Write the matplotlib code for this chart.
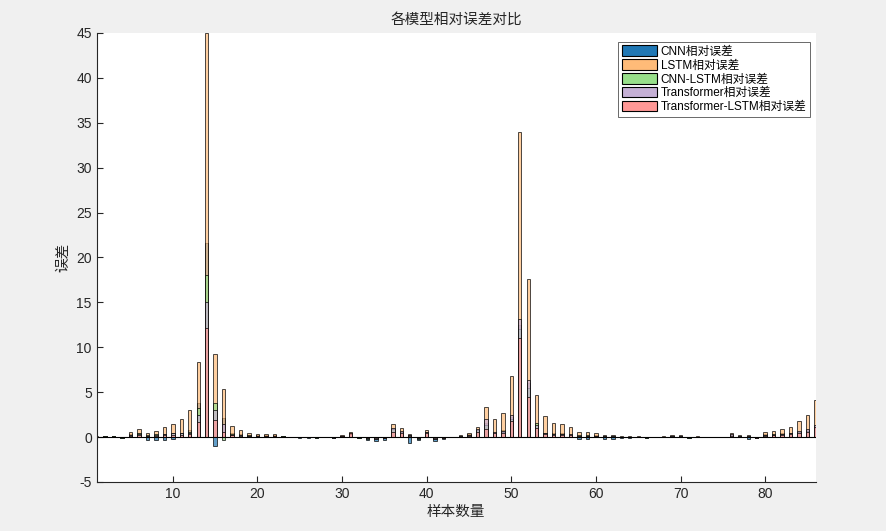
"""
    plot.py

    DESCRIPTION
    relative error of each model, overlapping bars

"""

import numpy as np
import matplotlib
matplotlib.use("Agg")
import matplotlib.pyplot as plt
from matplotlib.patches import Patch

plt.rcParams['font.family'] = ['Liberation Sans', 'Noto Sans CJK SC', 'DejaVu Sans']
plt.rcParams['axes.unicode_minus'] = False

# sample index 1..86
samples = list(range(1, 87))

lstm_err = [0.10, 0.15, 0.15, 0.05, 0.55, 0.90, 0.45, 0.70, 1.10, 1.50,
            2.00, 3.00, 8.35, 45.0, 9.20, 5.40, 1.25, 0.80, 0.45, 0.30,
            0.30, 0.30, 0.15, 0.05, 0.02, 0.02, 0.03, 0.05, 0.03, 0.25,
            0.60, 0.05, 0.05, 0.05, 0.05, 1.45, 1.05, 0.30, 0.05, 0.80,
            0.05, 0.05, 0.05, 0.25, 0.45, 1.15, 3.35, 2.00, 2.67, 6.80,
            34.0, 17.6, 4.70, 2.35, 1.55, 1.45, 1.10, 0.55, 0.55, 0.45,
            0.25, 0.25, 0.15, 0.15, 0.10, 0.03, 0.05, 0.10, 0.20, 0.20,
            0.03, 0.10, 0.03, 0.03, 0.03, 0.45, 0.20, 0.20, 0.03, 0.55,
            0.67, 0.90, 1.10, 1.80, 2.45, 4.15]

cnn_err = [0.05, 0.10, 0.10, -0.10, 0.30, 0.50, -0.30, -0.30, -0.30, -0.25,
           0.40, 0.80, 3.80, 21.6, -1.00, 2.10, 0.40, 0.30, 0.25, 0.20,
           0.20, 0.20, 0.10, 0.02, -0.05, -0.05, -0.10, 0.02, -0.15, 0.15,
           0.40, -0.10, -0.35, -0.45, -0.30, 0.80, 0.50, -0.65, -0.35, 0.50,
           -0.40, -0.20, 0.02, 0.15, 0.30, 0.70, 1.60, 0.60, 0.80, 2.20,
           12.5, 6.00, 1.20, 0.50, 0.40, 0.40, 0.30, -0.25, -0.25, 0.20,
           -0.25, -0.25, -0.15, -0.15, 0.05, -0.10, 0.02, 0.05, 0.10, 0.10,
           -0.10, 0.05, 0.02, 0.02, 0.02, 0.25, 0.10, -0.20, -0.15, 0.30,
           0.35, 0.40, 0.50, 0.60, 0.80, 1.20]

cnn_lstm_err = [0.05, 0.08, 0.08, -0.05, 0.25, 0.40, 0.20, 0.30, 0.35, 0.45,
                0.50, 0.60, 3.20, 18.0, 3.80, -0.30, 0.30, 0.25, 0.20, 0.15,
                0.15, 0.15, 0.08, 0.02, -0.03, -0.03, -0.05, 0.02, -0.08, 0.12,
                0.35, -0.05, -0.20, -0.25, -0.15, 0.90, 0.60, 0.20, -0.20, 0.55,
                -0.25, -0.10, 0.02, 0.10, 0.25, 0.80, 1.40, 0.50, 0.60, 2.00,
                12.0, 5.50, 1.55, 0.40, 0.30, 0.30, 0.25, 0.20, 0.20, 0.15,
                0.10, 0.10, 0.05, 0.05, 0.05, -0.05, 0.02, 0.05, 0.10, 0.10,
                -0.05, 0.05, 0.02, 0.02, 0.02, 0.20, 0.10, 0.10, -0.10, 0.25,
                0.30, 0.35, 0.40, 0.55, 0.70, 1.00]

transformer_err = [0.04, 0.06, 0.06, -0.03, 0.20, 0.35, 0.15, 0.25, 0.30, 0.40,
                   0.45, 0.50, 2.50, 15.0, 3.00, 1.50, 0.25, 0.20, 0.15, 0.12,
                   0.12, 0.12, 0.06, 0.01, -0.02, -0.02, -0.04, 0.01, -0.05, 0.10,
                   0.30, -0.04, -0.15, -0.20, -0.12, 1.00, 0.70, 0.25, -0.15, 0.60,
                   -0.20, -0.08, 0.01, 0.08, 0.20, 0.90, 2.00, 0.60, 0.70, 2.50,
                   13.1, 6.40, 1.30, 0.45, 0.35, 0.35, 0.30, 0.15, 0.15, 0.12,
                   0.08, 0.08, 0.04, 0.04, 0.04, -0.04, 0.01, 0.04, 0.08, 0.08,
                   -0.04, 0.04, 0.01, 0.01, 0.01, 0.30, 0.08, 0.08, -0.08, 0.20,
                   0.25, 0.30, 0.45, 0.65, 0.85, 1.40]

trans_lstm_err = [0.03, 0.05, 0.05, -0.02, 0.10, 0.20, 0.10, 0.15, 0.20, 0.25,
                  0.25, 0.30, 1.70, 12.1, 1.90, 0.60, 0.20, 0.15, 0.10, 0.10,
                  0.10, 0.10, 0.05, 0.01, -0.01, -0.01, -0.02, 0.01, -0.03, 0.08,
                  0.50, -0.02, -0.10, -0.10, -0.08, 0.60, 0.40, 0.15, -0.10, 0.40,
                  -0.10, -0.05, 0.01, 0.05, 0.15, 0.60, 0.90, 0.40, 0.50, 1.75,
                  11.0, 4.50, 1.00, 0.30, 0.25, 0.25, 0.20, 0.10, 0.10, 0.10,
                  0.05, 0.05, 0.03, 0.03, 0.03, -0.03, 0.01, 0.03, 0.05, 0.05,
                  -0.03, 0.03, 0.01, 0.01, 0.01, 0.15, 0.05, 0.05, -0.05, 0.15,
                  0.20, 0.25, 0.35, 0.45, 0.60, 1.10]

labels = ["CNN相对误差", "LSTM相对误差", "CNN-LSTM相对误差",
          "Transformer相对误差", "Transformer-LSTM相对误差"]
colors = ["#1f77b4", "#ffbb78", "#98df8a", "#c5b0d5", "#ff9896"]

series = [cnn_err, lstm_err, cnn_lstm_err, transformer_err, trans_lstm_err]

fig = plt.figure(figsize=(8.86, 5.31), dpi=100, facecolor="#f0f0f0")
ax = fig.add_axes([0.1091, 0.0923, 0.8118, 0.8456])
ax.set_facecolor("white")

x = np.array(samples)
for vals, col in zip(series, colors):
    ax.bar(x, vals, width=0.4, color=col, alpha=0.7,
           edgecolor="black", linewidth=0.7)
ax.axhline(0, color="black", linewidth=0.8)

ax.set_xlim(1, 86)
ax.set_ylim(-5, 45)
ax.set_xticks(range(10, 81, 10))
ax.set_yticks(range(-5, 46, 5))
ax.tick_params(direction="in", length=4, colors="#262626", labelsize=10)
for s in ["top", "right"]:
    ax.spines[s].set_visible(False)
for s in ["left", "bottom"]:
    ax.spines[s].set_color("#262626")

ax.set_title("各模型相对误差对比", fontsize=10.5, color="#262626", pad=7)
ax.set_xlabel("样本数量", fontsize=10.5, color="#262626", labelpad=3)
ax.set_ylabel("误差", fontsize=10.5, color="#262626")

handles = [Patch(facecolor=c, edgecolor="black", linewidth=0.8) for c in colors]
leg = ax.legend(handles, labels, loc="upper right", fontsize=8.5,
                frameon=True, fancybox=False, edgecolor="#262626",
                handlelength=3.0, handleheight=0.95, handletextpad=0.3,
                labelspacing=0.15, borderaxespad=0.0, borderpad=0.3,
                bbox_to_anchor=(0.992, 0.98))
leg.get_frame().set_linewidth(0.6)

fig.savefig("out.png", dpi=100, facecolor=fig.get_facecolor())
